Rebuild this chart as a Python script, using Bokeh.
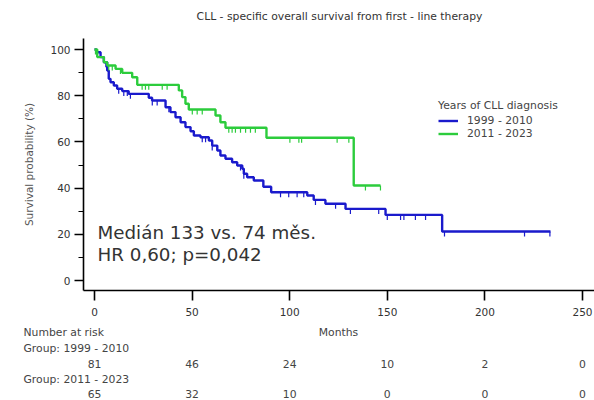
import numpy as np
from bokeh.plotting import figure
from bokeh.layouts import column
from bokeh.models import Legend, LegendItem, SingleIntervalTicker, FixedTicker, Range1d
from bokeh.core.properties import value
from bokeh.embed import file_html
from bokeh.resources import INLINE

# ---------------- data ----------------
title_text = "CLL - specific overall survival from first - line therapy"
group_names = ["1999 - 2010", "2011 - 2023"]

# Kaplan-Meier steps: time (months) of each step, survival (%) after the step
blue_times = [0, 1.0, 3.1, 4.8, 6.5, 7.3, 8.2, 9.9, 11.6, 14.2, 17.5, 27.8, 29.5, 36.4, 38.9,
              41.5, 44.1, 46.6, 49.2, 50.9, 54.3, 58.6, 60.3, 62.9, 64.5, 67.1, 70.5, 73.1,
              75.7, 76.5, 78.2, 81.6, 86.5, 90.5, 109.0, 112.3, 118.3, 128.6, 149.1, 178.1]
blue_surv = [100, 98.8, 96.7, 94.5, 90.9, 87.3, 85.8, 84.4, 83.0, 82.0, 80.8, 79.1, 77.9, 75.0, 72.9,
             70.7, 68.5, 66.4, 64.6, 62.8, 62.0, 60.6, 58.4, 56.3, 54.1, 52.7, 51.2, 49.8,
             48.4, 46.2, 44.7, 43.3, 40.6, 38.2, 36.8, 34.9, 33.2, 31.0, 28.4, 21.2]
blue_end = 233.6
blue_censor = [5.8, 12.4, 15.0, 16.8, 18.4, 29.6, 32.1, 38.1, 55.2, 56.9, 60.3, 74.8, 76.5,
               95.3, 99.5, 103.8, 107.2, 113.2, 123.5, 131.1, 145.6, 150.0, 156.8, 158.5,
               164.4, 169.6, 179.3, 220.3, 233.3]

green_times = [0, 1.4, 4.8, 6.5, 10.8, 14.2, 19.3, 21.9, 43.2, 44.9, 46.6, 48.3, 62.0, 64.5,
               67.1, 88.1, 132.8]
green_surv = [100, 96.7, 94.5, 93.1, 91.6, 89.9, 88.0, 84.7, 82.3, 79.4, 76.5, 74.0, 71.4, 68.5,
              66.1, 61.8, 41.1]
green_end = 146.5
green_censor = [0.5, 7.3, 9.1, 13.3, 24.4, 26.1, 27.8, 34.7, 37.2, 50.1, 52.6, 55.2, 68.8,
                70.5, 72.2, 74.8, 77.4, 79.9, 82.4, 100.1, 104.7, 106.1, 124.3, 130.3,
                138.8, 146.5]

x_ticks = [0, 50, 100, 150, 200, 250]
risk_times = [0, 50, 100, 150, 200, 250]
risk_blue = [81, 46, 24, 10, 2, 0]
risk_green = [65, 32, 10, 0, 0, 0]

note_lines = ["Medián 133 vs. 74 měs.", "HR 0,60; p=0,042"]

# ---------------- layout (canvas pixels) ----------------
W = 594
TOP_H, MAIN_H, BOT_H = 38, 284, 78
FL, FR = 83, 594                 # frame left/right
FB_MAIN = 252                    # frame bottom inside main figure (page y 290)
X0PX, XSCALE = 94, 1.952         # pixel of x=0, px per month
Y0PX, YSCALE = 242, 2.31         # pixel of y=0 inside main figure, px per %
x_start, x_end = (FL - X0PX) / XSCALE, (FR - X0PX) / XSCALE
y_start, y_end = (Y0PX - FB_MAIN) / YSCALE, Y0PX / YSCALE

def px2x(cx):
    return (cx - X0PX) / XSCALE

BLUE = "#1a1acc"
GREEN = "#2ccc3c"
FONT = "DejaVu Sans"
SMALL = "10.8px"

def text_fig(height):
    f = figure(width=W, height=height, x_range=Range1d(px2x(0), px2x(W)),
               y_range=Range1d(height, 0), output_backend="svg", toolbar_location=None,
               x_axis_type=None, y_axis_type=None, min_border=0, frame_align=False)
    f.outline_line_color = None
    f.xgrid.visible = False
    f.ygrid.visible = False
    return f

# ---- title strip ----
top = text_fig(TOP_H)
top.text(x=[px2x(339)], y=[16], text=[title_text], text_align="center", text_baseline="middle",
         text_font=value(FONT), text_font_size=SMALL, text_color="#333333")

# ---- main chart ----
p = figure(width=W, height=MAIN_H, x_range=Range1d(x_start, x_end), y_range=Range1d(y_start, y_end),
           output_backend="svg", toolbar_location=None, frame_align=False,
           min_border_left=FL, min_border_right=0, min_border_top=0, min_border_bottom=MAIN_H - FB_MAIN)
p.outline_line_color = None
p.xgrid.visible = False
p.ygrid.visible = False

def km_path(times, surv, end):
    return list(times) + [end], list(surv) + [surv[-1]]

def censor_y(times, surv, ct):
    idx = np.searchsorted(np.array(times), np.array(ct), side="right") - 1
    return np.array(surv)[idx]

renderers = []
for times, surv, end, cens, col in [(blue_times, blue_surv, blue_end, blue_censor, BLUE),
                                    (green_times, green_surv, green_end, green_censor, GREEN)]:
    xs, ys = km_path(times, surv, end)
    r = p.step(xs, ys, mode="after", line_color=col, line_width=2.4)
    renderers.append(r)
    cy = censor_y(times, surv, cens)
    p.segment(x0=cens, y0=cy, x1=cens, y1=cy - 5 / YSCALE, line_color=col, line_width=1.2)

xa = p.xaxis[0]
xa.ticker = FixedTicker(ticks=x_ticks)
xa.axis_line_width = 1.6
xa.major_tick_line_width = 1.6
xa.major_tick_in = 0
xa.major_tick_out = 10
xa.minor_tick_out = 0
xa.minor_tick_in = 0
xa.major_label_text_font = FONT
xa.major_label_text_font_size = "10.5px"
xa.major_label_text_color = "#333333"
xa.major_label_standoff = 7

ya = p.yaxis[0]
ya.ticker = SingleIntervalTicker(interval=20, num_minor_ticks=2)
ya.axis_line_width = 1.6
ya.major_tick_line_width = 1.6
ya.minor_tick_line_width = 1.2
ya.major_tick_in = 0
ya.major_tick_out = 9
ya.minor_tick_in = 0
ya.minor_tick_out = 5
ya.major_label_text_font = FONT
ya.major_label_text_font_size = "10.5px"
ya.major_label_text_color = "#333333"
ya.major_label_standoff = 4
ya.axis_label = "Survival probability (%)"
ya.axis_label_text_font = FONT
ya.axis_label_text_font_size = "10.5px"
ya.axis_label_text_font_style = "normal"
ya.axis_label_text_color = "#555555"
ya.axis_label_standoff = 12

legend = Legend(items=[LegendItem(label=group_names[0], renderers=[renderers[0]]),
                       LegendItem(label=group_names[1], renderers=[renderers[1]])],
                location=(355, 150), title="Years of CLL diagnosis",
                title_text_font=FONT, title_text_font_size=SMALL, title_text_font_style="normal",
                title_text_color="#444444", title_standoff=2,
                label_text_font=FONT, label_text_font_size=SMALL, label_text_color="#444444",
                glyph_width=20, glyph_height=13, label_height=13, label_standoff=9,
                spacing=0, padding=0, margin=0, border_line_alpha=0, background_fill_alpha=0)
p.add_layout(legend, "center")

# annotation text (data coords inside the frame)
for i, line in enumerate(note_lines):
    p.text(x=[px2x(97)], y=[(Y0PX - (194 + 22 * i)) / YSCALE], text=[line], text_align="left",
           text_baseline="alphabetic", text_font=value(FONT), text_font_size="18.3px",
           text_color="#333333")

# ---- number-at-risk strip ----
bot = text_fig(BOT_H)
def small_text(xs, y, texts, align="left"):
    bot.text(x=xs, y=[y] * len(xs), text=texts, text_align=align, text_baseline="middle",
             text_font=value(FONT), text_font_size=SMALL, text_color="#444444")

small_text([px2x(338)], 10, ["Months"], "center")
small_text([px2x(23)], 10, ["Number at risk"])
small_text([px2x(23)], 26, ["Group: " + group_names[0]])
small_text(risk_times, 41, [str(n) for n in risk_blue], "center")
small_text([px2x(23)], 57, ["Group: " + group_names[1]])
small_text(risk_times, 71, [str(n) for n in risk_green], "center")

layout = column(top, p, bot, spacing=0)
open("out.html", "w").write(file_html(layout, INLINE))
